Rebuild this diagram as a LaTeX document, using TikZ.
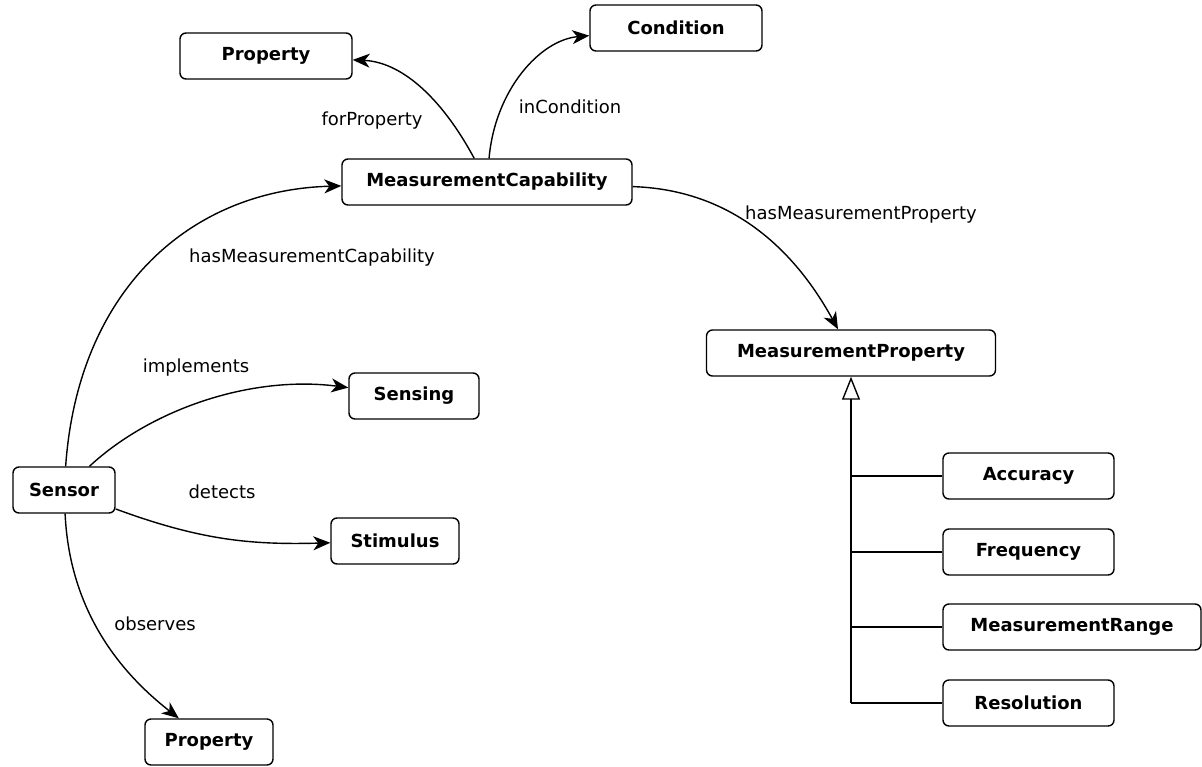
\documentclass[tikz,border=0pt]{standalone}
\usepackage{fontspec}
\setmainfont{DejaVu Sans}
\usetikzlibrary{arrows.meta}
\begin{document}
\begin{tikzpicture}[x=1pt,y=-1pt,
  cls/.style={draw, line width=1.4pt, rounded corners=6pt, minimum height=46pt,
    inner sep=0pt, font=\fontsize{18}{21}\selectfont\bfseries},
  rel/.style={line width=1.4pt, -{Stealth[length=17pt,width=14pt,inset=5pt]}},
  inh/.style={line width=1.4pt, -{Triangle[open,length=23pt,width=18pt,line width=1.4pt]}},
  lbl/.style={font=\fontsize{18}{21}\selectfont, inner sep=0pt}]
\useasboundingbox (0,0) rectangle (1202,766);

% classes
\node[cls, minimum width=172pt] (prop1) at (266,56) {Property};
\node[cls, minimum width=172pt] (cond) at (676,28) {Condition};
\node[cls, minimum width=290pt] (mcap) at (487,182) {MeasurementCapability};
\node[cls, minimum width=289pt] (mprop) at (851,353) {MeasurementProperty};
\node[cls, minimum width=130pt] (sensing) at (414,396) {Sensing};
\node[cls, minimum width=102pt] (sensor) at (64,490) {Sensor};
\node[cls, minimum width=128pt] (stim) at (395,541) {Stimulus};
\node[cls, minimum width=128pt] (prop2) at (209,742) {Property};
\node[cls, minimum width=171pt] (acc) at (1028.5,476) {Accuracy};
\node[cls, minimum width=171pt] (freq) at (1028.5,552) {Frequency};
\node[cls, minimum width=258pt] (range) at (1072,627) {MeasurementRange};
\node[cls, minimum width=171pt] (res) at (1028.5,703) {Resolution};

% relations
\draw[rel] (sensor) .. controls (78,290) and (190,190) .. (mcap);
\draw[rel] (sensor) .. controls (150,410) and (250,375) .. (sensing);
\draw[rel] (sensor) .. controls (200,540) and (250,545) .. (stim);
\draw[rel] (sensor) .. controls (70,620) and (130,680) .. (prop2);
\draw[rel] (mcap) .. controls (440,95) and (400,62) .. (prop1);
\draw[rel] (mcap) .. controls (495,90) and (540,40) .. (cond);
\draw[rel] (mcap) .. controls (740,190) and (800,260) .. (mprop);

% relation labels
\node[lbl] (lfor) at (372,121) {forProperty};
\node[lbl] (lin) at (570,107) {inCondition};
\node[lbl] (lhmc) at (312,258) {hasMeasurementCapability};
\node[lbl] (lhmp) at (861,215) {hasMeasurementProperty};
\node[lbl] (limp) at (196,368) {implements};
\node[lbl] (ldet) at (222,492) {detects};
\node[lbl] (lobs) at (155,624) {observes};

% generalisation tree
\coordinate (trunk) at (851,703);
\draw[inh] (trunk) -- (mprop);
\foreach \n in {acc,freq,range,res}
  \draw[line width=1.4pt] (\n) -- (\n -| trunk);
\end{tikzpicture}
\end{document}
